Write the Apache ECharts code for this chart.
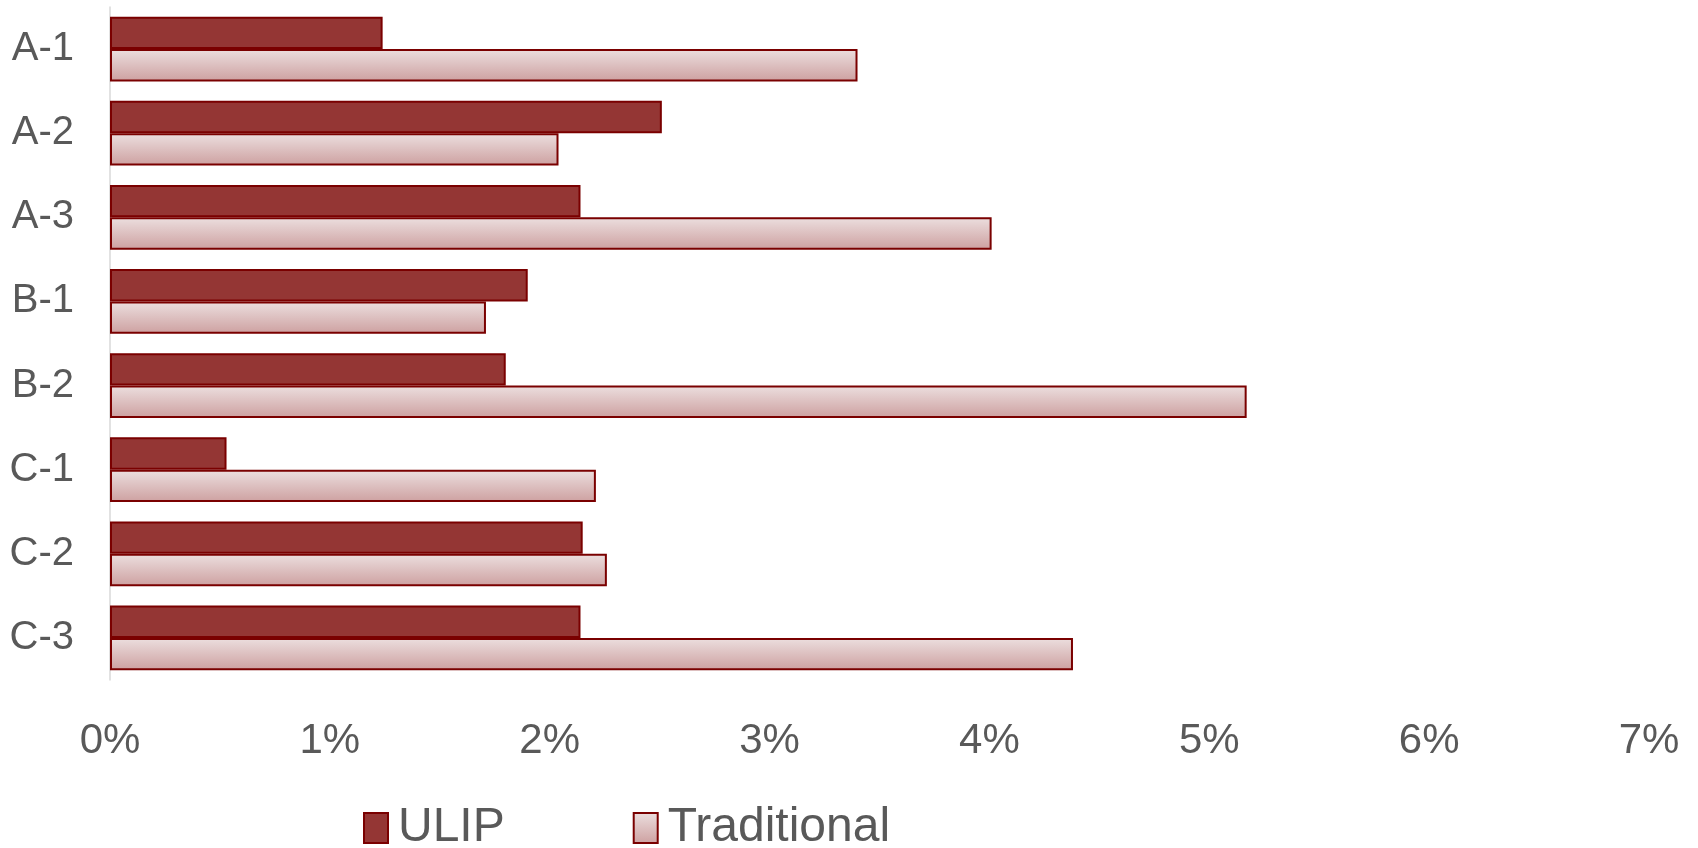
<!DOCTYPE html>
<html>
<head>
<meta charset="utf-8">
<script src="https://cdn.jsdelivr.net/npm/echarts@6/dist/echarts.min.js"></script>
<style>
  html, body { margin: 0; padding: 0; background: #fff; }
  #chart { width: 1698px; height: 848px; }
</style>
</head>
<body>
<div id="chart"></div>
<script>
// Fund categories, top to bottom
const categories = ['A-1', 'A-2', 'A-3', 'B-1', 'B-2', 'C-1', 'C-2', 'C-3'];
// Values in percent
const ulipValues = [1.24, 2.51, 2.14, 1.90, 1.80, 0.53, 2.15, 2.14];
const traditionalValues = [3.40, 2.04, 4.01, 1.71, 5.17, 2.21, 2.26, 4.38];
// Value axis ticks (percent)
const tickValues = [0, 1, 2, 3, 4, 5, 6, 7];

const chart = echarts.init(document.getElementById('chart'), null, { renderer: 'canvas' });

const textColor = '#595959';
const fontFamily = '"Liberation Sans", Arial, sans-serif';
const borderColor = '#7a0000';

const tradGradient = new echarts.graphic.LinearGradient(0, 0, 0, 1, [
  { offset: 0, color: '#ecdfdf' },
  { offset: 1, color: '#cda0a0' }
]);

chart.setOption({
  animation: false,
  backgroundColor: '#ffffff',
  textStyle: { fontFamily: fontFamily },
  grid: { left: 110, right: 49, top: 7, bottom: 168, containLabel: false },
  legend: {
    top: 799,
    left: 358,
    icon: 'rect',
    itemWidth: 24,
    itemHeight: 30,
    itemGap: 128,
    textStyle: { fontSize: 48, color: textColor, fontFamily: fontFamily, padding: [0, 0, 0, 5] },
    itemStyle: { borderColor: borderColor, borderWidth: 2 },
    data: ['ULIP', 'Traditional']
  },
  xAxis: {
    type: 'value',
    min: tickValues[0],
    max: tickValues[tickValues.length - 1],
    interval: 1,
    axisLine: { show: false },
    axisTick: { show: false },
    splitLine: { show: false },
    axisLabel: {
      color: textColor,
      fontSize: 42,
      margin: 40,
      fontFamily: fontFamily,
      formatter: v => v + '%'
    }
  },
  yAxis: {
    type: 'category',
    inverse: true,
    data: categories,
    axisLine: { show: true, lineStyle: { color: '#d9d9d9', width: 1.5 } },
    axisTick: { show: false },
    axisLabel: {
      color: textColor,
      fontSize: 40,
      margin: 36,
      lineHeight: 52,
      padding: [10, 0, 0, 0],
      fontFamily: fontFamily
    }
  },
  series: [
    {
      name: 'ULIP',
      type: 'bar',
      data: ulipValues,
      barGap: '0%',
      barCategoryGap: '23%',
      itemStyle: { color: '#943634', borderColor: borderColor, borderWidth: 2 }
    },
    {
      name: 'Traditional',
      type: 'bar',
      data: traditionalValues,
      barGap: '0%',
      barCategoryGap: '23%',
      itemStyle: { color: tradGradient, borderColor: borderColor, borderWidth: 2 }
    }
  ]
});
</script>
</body>
</html>
